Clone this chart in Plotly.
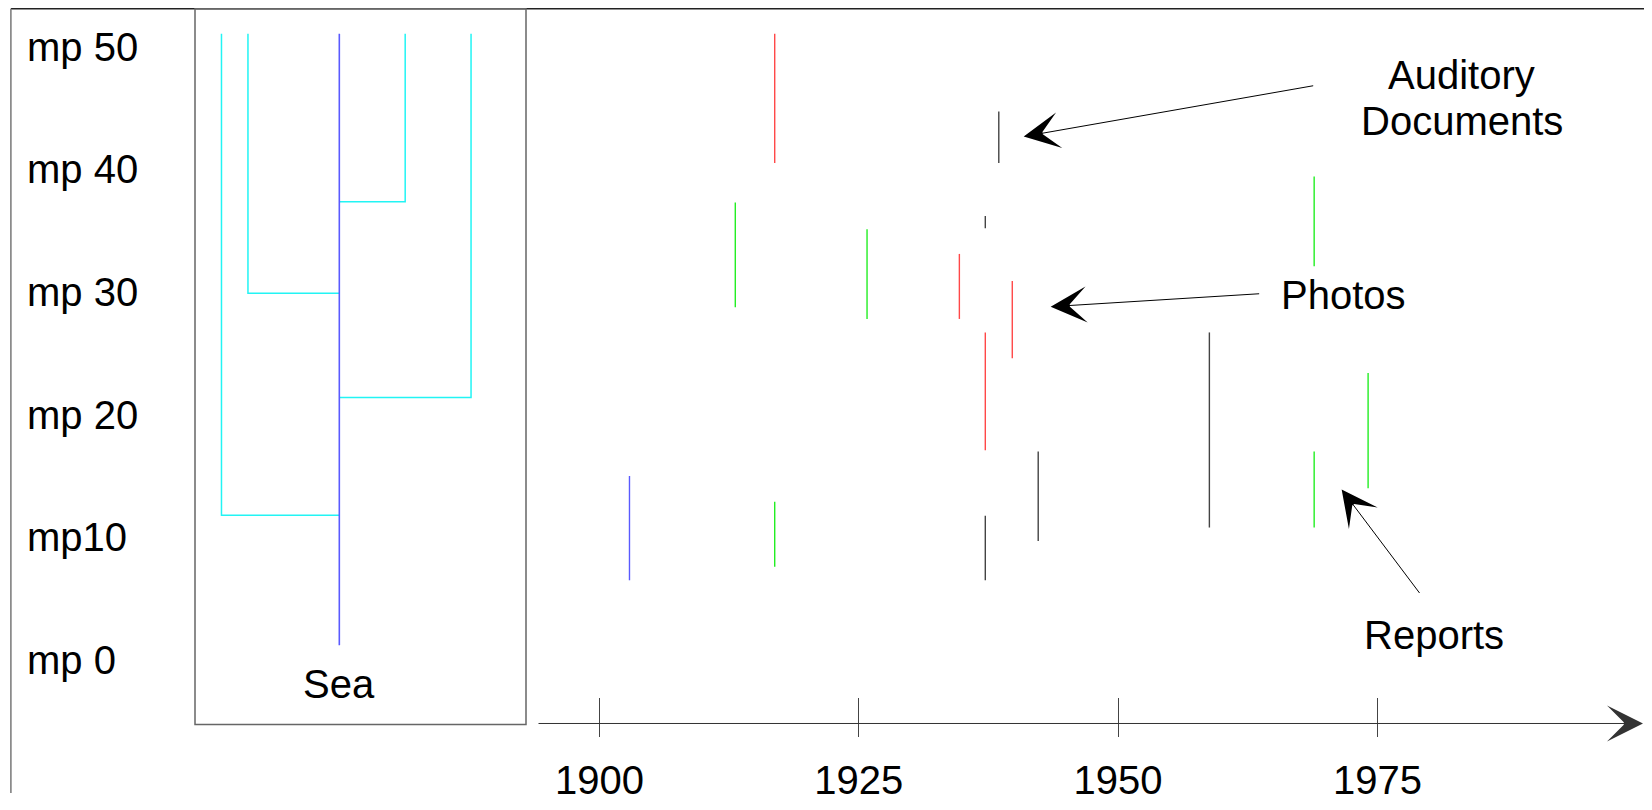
import plotly.graph_objects as go

# The page body keeps its default 8px margin, so the figure is sized to fit
# the 1652x810 window exactly and positions are measured from that offset.
OFF = 8
W, H = 1652 - 2 * OFF, 810 - 2 * OFF
FONT = "Liberation Sans, Arial, sans-serif"
FS = 40

# ---- data -------------------------------------------------------------
mp_values = [0, 10, 20, 30, 40, 50]
mp_labels = ["mp 0", "mp10", "mp 20", "mp 30", "mp 40", "mp 50"]

year_ticks = [1900, 1925, 1950, 1975]
year_labels = ["1900", "1925", "1950", "1975"]

# dendrogram ("Sea"): trunk position and branches (x position, top mp, joining mp)
trunk_x = 0.436
trunk_top = 51.05
trunk_bottom = 1.2
branch_x = [0.08, 0.16, 0.635, 0.834]
branch_top = [51.05, 51.05, 51.05, 51.05]
branch_join = [11.8, 29.9, 37.35, 21.4]

# timeline segments: year, upper mp, lower mp
photos_year = [1916.9, 1934.7, 1939.8, 1937.2]
photos_top = [51.05, 33.1, 30.9, 26.7]
photos_bot = [40.5, 27.8, 24.6, 17.1]

reports_year = [1913.1, 1925.8, 1968.9, 1974.1, 1968.9, 1916.9]
reports_top = [37.3, 35.1, 39.4, 23.4, 17.0, 12.9]
reports_bot = [28.75, 27.8, 32.1, 14.0, 10.8, 7.6]

auditory_year = [1938.5, 1937.2, 1958.8, 1942.3, 1937.2]
auditory_top = [44.7, 36.2, 26.7, 17.0, 11.75]
auditory_bot = [40.5, 35.2, 10.8, 9.7, 6.5]

other_year = [1902.9]
other_top = [15.0]
other_bot = [6.5]


def segs(xs, tops, bots):
    X, Y = [], []
    for x, t, b in zip(xs, tops, bots):
        X += [x, x, None]
        Y += [t, b, None]
    return X, Y


fig = go.Figure()

# dendrogram branches
bx, by = [], []
for x, t, j in zip(branch_x, branch_top, branch_join):
    bx += [x, x, trunk_x, None]
    by += [t, j, j, None]
fig.add_trace(go.Scatter(x=bx, y=by, mode="lines", xaxis="x", yaxis="y",
                         line=dict(color="#22f4f4", width=1.5),
                         hoverinfo="skip", showlegend=False))
fig.add_trace(go.Scatter(x=[trunk_x, trunk_x], y=[trunk_top, trunk_bottom],
                         mode="lines", xaxis="x", yaxis="y",
                         line=dict(color="#5a5aff", width=1.6),
                         hoverinfo="skip", showlegend=False))

series = [
    ("Photos", photos_year, photos_top, photos_bot, "#ff4848"),
    ("Reports", reports_year, reports_top, reports_bot, "#22ee22"),
    ("Auditory", auditory_year, auditory_top, auditory_bot, "#444444"),
    ("Other", other_year, other_top, other_bot, "#5a5aff"),
]
for name, xs, ts, bs, col in series:
    X, Y = segs(xs, ts, bs)
    fig.add_trace(go.Scatter(x=X, y=Y, mode="lines", name=name,
                             xaxis="x2", yaxis="y",
                             line=dict(color=col, width=1.4),
                             hoverinfo="skip", showlegend=False))

# ---- layout -----------------------------------------------------------
px = lambda v: (v - OFF) / W          # window px -> paper x
py = lambda v: 1 - (v - OFF) / H      # window px -> paper y

axis_y = 731.7
x2_range = [1842.993, 2000.695]
y_range = [-10.838, 53.143]
top_y = 8.8

shapes = [
    dict(type="line", xref="paper", yref="paper", x0=px(10.9), x1=1.0,
         y0=py(top_y), y1=py(top_y), line=dict(color="#222222", width=1.5)),
    dict(type="line", xref="paper", yref="paper", x0=px(10.9), x1=px(10.9),
         y0=0, y1=py(top_y), line=dict(color="#777777", width=1.5)),
    dict(type="rect", xref="paper", yref="paper", x0=px(195), x1=px(526),
         y0=py(732.7), y1=py(top_y), line=dict(color="#666666", width=1.5)),
]

txt = dict(family=FONT, size=FS, color="black")
annotations = []
for v, t in zip(mp_values, mp_labels):
    annotations.append(dict(xref="paper", yref="y", x=px(25), y=v, text=t,
                            showarrow=False, xanchor="left", yanchor="middle",
                            font=txt))

annotations += [
    dict(xref="x", yref="paper", x=trunk_x, y=py(691.7), text="Sea",
         showarrow=False, xanchor="center", yanchor="middle", font=txt),
    dict(xref="paper", yref="paper", x=px(1461.7), y=py(76), text="Auditory",
         showarrow=False, xanchor="center", yanchor="middle", font=txt),
    dict(xref="paper", yref="paper", x=px(1461.7), y=py(122), text="Documents",
         showarrow=False, xanchor="center", yanchor="middle", font=txt),
    dict(xref="paper", yref="paper", x=px(1343.7), y=py(298.3), text="Photos",
         showarrow=False, xanchor="center", yanchor="middle", font=txt),
    dict(xref="paper", yref="paper", x=px(1433.9), y=py(642), text="Reports",
         showarrow=False, xanchor="center", yanchor="middle", font=txt),
    # pointer arrows
    dict(xref="x2", yref="y", x=1940.9, y=42.67, ax=291, ay=-51, text="",
         showarrow=True, arrowhead=3, arrowsize=6, arrowwidth=1, arrowcolor="black"),
    dict(xref="x2", yref="y", x=1943.5, y=28.8, ax=210, ay=-13, text="",
         showarrow=True, arrowhead=3, arrowsize=6, arrowwidth=1, arrowcolor="black"),
    dict(xref="x2", yref="y", x=1971.55, y=13.9, ax=79, ay=105, text="",
         showarrow=True, arrowhead=3, arrowsize=6, arrowwidth=1, arrowcolor="black"),
    # time axis arrow
    dict(xref="paper", yref="paper", x=px(1643), y=py(axis_y), ax=-(1643 - 537), ay=0,
         text="", showarrow=True, arrowhead=3, arrowsize=6, arrowwidth=1,
         arrowcolor="#333333"),
]

fig.update_layout(
    width=W, height=H,
    margin=dict(l=0, r=0, t=0, b=0),
    paper_bgcolor="white", plot_bgcolor="rgba(0,0,0,0)",
    showlegend=False,
    xaxis=dict(domain=[px(195), px(526)], range=[0, 1], visible=False, fixedrange=True),
    yaxis=dict(domain=[0, 1], range=y_range, visible=False, fixedrange=True),
    xaxis2=dict(domain=[0, 1], range=x2_range, anchor="free", position=py(705),
                showline=False, showgrid=False, zeroline=False,
                tickmode="array", tickvals=year_ticks, ticktext=year_labels,
                ticks="outside", ticklen=39, tickwidth=1, tickcolor="#444444",
                ticklabelstandoff=9,
                tickfont=txt),
    shapes=shapes,
    annotations=annotations,
)

fig.write_html("out.html")
